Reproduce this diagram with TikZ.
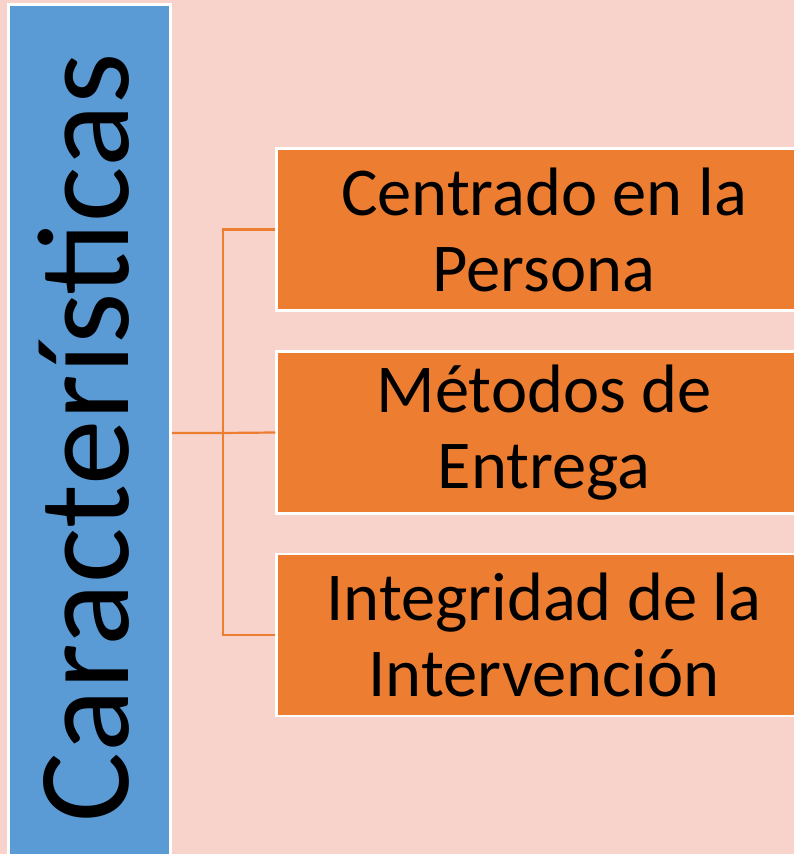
\documentclass[tikz,border=0pt]{standalone}
\usepackage{fontspec}
\setmainfont{Carlito}
\definecolor{bgpink}{HTML}{F8D3CB}
\definecolor{mainblue}{HTML}{5B9BD5}
\definecolor{boxorange}{HTML}{ED7D31}
\tikzset{
  mainbox/.style={draw=white, line width=3pt, fill=mainblue, minimum width=162pt, minimum height=856pt, inner sep=0pt},
  itembox/.style={draw=white, line width=2.5pt, fill=boxorange, minimum width=535pt, minimum height=162pt, inner sep=0pt, align=center, font=\fontsize{68.5}{76}\selectfont},
  conn/.style={draw=boxorange, line width=2.2pt}
}
\begin{document}
\begin{tikzpicture}[x=1pt,y=1pt]
\fill[bgpink] (0,0) rectangle (794,854);
\useasboundingbox (0,0) rectangle (794,854);
\node[mainbox, label={[xshift=-6pt, yshift=-5pt, rotate=90, inner sep=0pt, font=\fontsize{131}{140}\selectfont]center:Características}] (main) at (89.5,421) {};
\node[itembox] (b1) at (544,624.5) {Centrado en la\\Persona};
\node[itembox] (b2) at (544,421.5) {Métodos de\\Entrega};
\node[itembox] (b3) at (544,219) {Integridad de la\\Intervención};
\coordinate (j) at (223,421);
\draw[conn] (main.east) -- (j) -- (b2.west);
\draw[conn] (b1.west) -| (j) |- (b3.west);
\end{tikzpicture}
\end{document}
